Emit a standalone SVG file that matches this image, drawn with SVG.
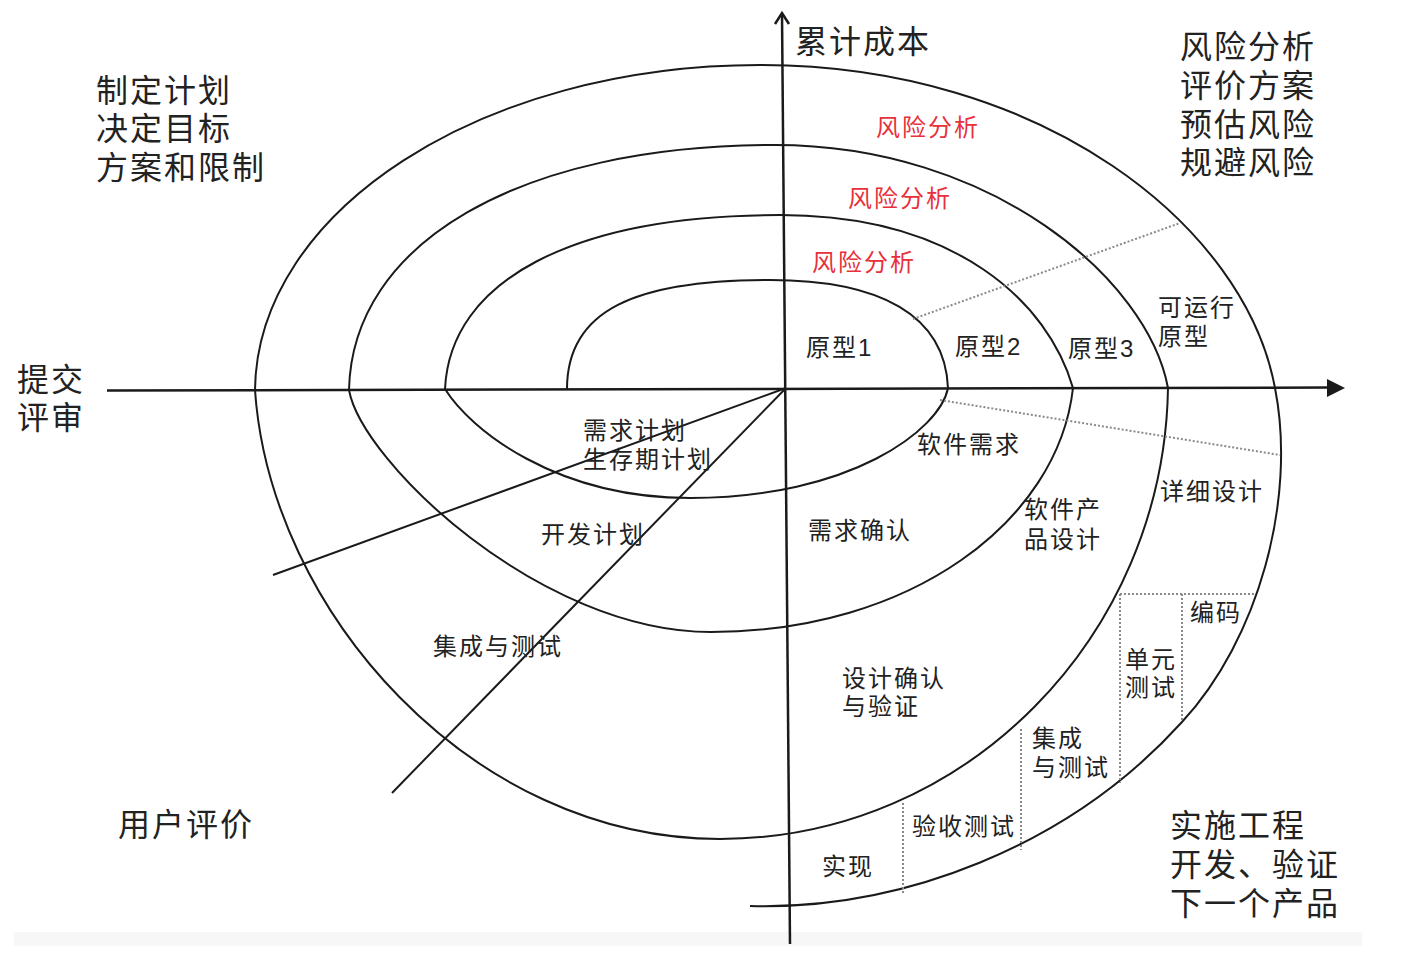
<svg xmlns="http://www.w3.org/2000/svg" width="1409" height="954" viewBox="0 0 1409 954">
<style>
.big{font-family:"Liberation Sans","Noto Sans CJK SC",sans-serif;font-size:32px;letter-spacing:2px;fill:#222;dominant-baseline:central}
.sm{font-family:"Liberation Sans","Noto Sans CJK SC",sans-serif;font-size:24px;letter-spacing:2px;fill:#222;dominant-baseline:central}
.red{fill:#e8303a}
.ln{fill:none;stroke:#1a1a1a;stroke-width:2}
.ax{fill:none;stroke:#1a1a1a;stroke-width:2.5}
.dot{fill:none;stroke:#8a8a8a;stroke-width:2;stroke-dasharray:2 2}
</style>
<rect x="0" y="0" width="1409" height="954" fill="#fff"/>
<rect x="14" y="932" width="1348" height="14" fill="#f7f7f7"/>
<g id="connectors">
<line class="ax" x1="107" y1="390.5" x2="1330" y2="387.5"/>
<polygon points="1345,388 1327,379 1327,397" fill="#1a1a1a"/>
<line class="ax" x1="790" y1="944" x2="782" y2="14"/>
<polyline class="ax" points="775,24 782,13 789,24"/>
<path id="spiral" class="ln" d="M567,389 C567,310 635,280 770,280 C880,280 945,315 948,388 C940,430 850,498 690,498 C555,498 470,429 445,389 C450,281 572,215 780,215 C956,215 1048,302 1073,388 C1058,522 910,632 711,632 C540,632 362,462 349,390 C352,243 519,145 775,145 C991,145 1148,279 1168,388 C1164,636 966,839 720,839 C470,839 270,610 255,390 C257,211 481,65 760,65 C1043,65 1245,226 1275,388 C1297,500 1258,640 1182,722 C1068,848 900,910 750,906"/>
<line class="ln" x1="786" y1="388" x2="273" y2="575"/>
<line class="ln" x1="786" y1="388" x2="392" y2="793"/>
<line class="dot" x1="913" y1="319" x2="1180" y2="223"/>
<line class="dot" x1="940" y1="400" x2="1280" y2="455"/>
<line class="dot" x1="1120" y1="594" x2="1255" y2="594"/>
<line class="dot" x1="1120" y1="594" x2="1120" y2="783"/>
<line class="dot" x1="1182" y1="594" x2="1182" y2="722"/>
<line class="dot" x1="1021" y1="729" x2="1021" y2="850"/>
<line class="dot" x1="903" y1="803" x2="903" y2="893"/>
</g>
<g id="axis-labels">
<text class="big" x="795" y="42">累计成本</text>
<text class="big" x="17" y="380">提交<tspan x="17" dy="38">评审</tspan></text>
</g>
<g id="quadrant-plan">
<text class="big" x="96" y="91">制定计划<tspan x="96" dy="38">决定目标</tspan><tspan x="96" dy="39">方案和限制</tspan></text>
</g>
<g id="quadrant-risk">
<text class="big" x="1180" y="47">风险分析<tspan x="1180" dy="39">评价方案</tspan><tspan x="1180" dy="39">预估风险</tspan><tspan x="1180" dy="38">规避风险</tspan></text>
</g>
<g id="quadrant-eval">
<text class="big" x="118" y="825">用户评价</text>
</g>
<g id="quadrant-eng">
<text class="big" x="1170" y="826">实施工程<tspan x="1170" dy="39">开发、验证</tspan><tspan x="1170" dy="39">下一个产品</tspan></text>
</g>
<g id="risk1"><text class="sm red" x="876" y="127">风险分析</text></g>
<g id="risk2"><text class="sm red" x="848" y="198">风险分析</text></g>
<g id="risk3"><text class="sm red" x="812" y="262">风险分析</text></g>
<g id="proto1"><text class="sm" x="806" y="347">原型1</text></g>
<g id="proto2"><text class="sm" x="955" y="346">原型2</text></g>
<g id="proto3"><text class="sm" x="1068" y="348">原型3</text></g>
<g id="proto-run"><text class="sm" x="1158" y="307">可运行<tspan x="1158" dy="29">原型</tspan></text></g>
<g id="req-plan"><text class="sm" x="583" y="430">需求计划<tspan x="583" dy="29">生存期计划</tspan></text></g>
<g id="sw-req"><text class="sm" x="917" y="444">软件需求</text></g>
<g id="dev-plan"><text class="sm" x="541" y="534">开发计划</text></g>
<g id="req-confirm"><text class="sm" x="808" y="530">需求确认</text></g>
<g id="product-design"><text class="sm" x="1024" y="509">软件产<tspan x="1024" dy="30">品设计</tspan></text></g>
<g id="detail-design"><text class="sm" x="1160" y="491">详细设计</text></g>
<g id="integ-test1"><text class="sm" x="433" y="646">集成与测试</text></g>
<g id="design-confirm"><text class="sm" x="842" y="678">设计确认<tspan x="842" dy="28">与验证</tspan></text></g>
<g id="coding"><text class="sm" x="1190" y="612">编码</text></g>
<g id="unit-test"><text class="sm" x="1125" y="659">单元<tspan x="1125" dy="28">测试</tspan></text></g>
<g id="integ-test2"><text class="sm" x="1032" y="738">集成<tspan x="1032" dy="29">与测试</tspan></text></g>
<g id="accept-test"><text class="sm" x="912" y="826">验收测试</text></g>
<g id="implement"><text class="sm" x="822" y="866">实现</text></g>
</svg>
